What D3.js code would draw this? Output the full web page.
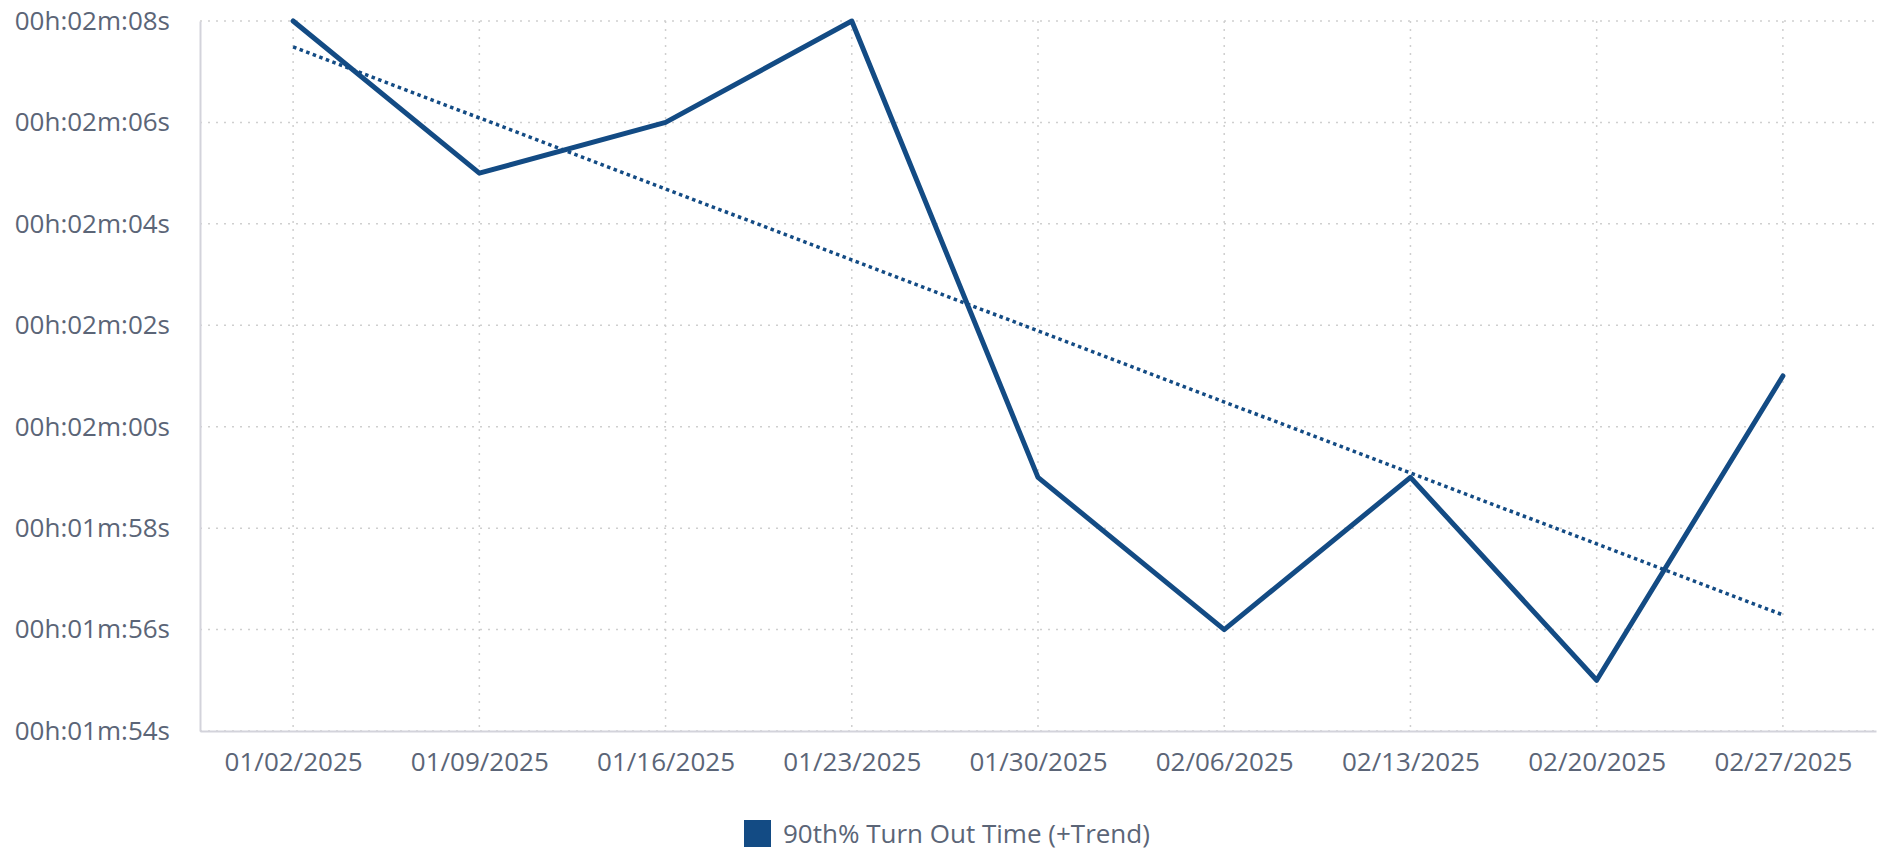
<!DOCTYPE html>
<html><head><meta charset="utf-8">
<script src="https://cdn.jsdelivr.net/npm/d3@7"></script>
<style>body{margin:0;background:#fff;} text{font-family:"Open Sans",sans-serif;fill:#5b6577;}</style>
</head><body>
<svg id="c" width="1886" height="853"></svg>
<script>
const categories = ["01/02/2025","01/09/2025","01/16/2025","01/23/2025","01/30/2025","02/06/2025","02/13/2025","02/20/2025","02/27/2025"];
const values = [128,125,126,128,119,116,119,115,121]; // seconds
const yTicks = [114,116,118,120,122,124,126,128];
const seriesName = "90th% Turn Out Time (+Trend)";
const color = "#134b84";

const svg = d3.select("#c");
const L=200, R=1876, T=21, B=731;
const x = d3.scalePoint().domain(categories).range([L,R]).padding(0.5);
const y = d3.scaleLinear().domain([114,128]).range([B,T]);
const fmt = s => "00h:" + String(Math.floor(s/60)).padStart(2,"0") + "m:" + String(s%60).padStart(2,"0") + "s";

// grid
svg.append("g").selectAll("line").data(yTicks).join("line")
  .attr("x1",L).attr("x2",R).attr("y1",d=>y(d)).attr("y2",d=>y(d))
  .attr("stroke","#cfcfcf").attr("stroke-width",1.5).attr("stroke-dasharray","2,6");
svg.append("g").selectAll("line").data(categories).join("line")
  .attr("x1",d=>x(d)).attr("x2",d=>x(d)).attr("y1",T).attr("y2",B)
  .attr("stroke","#cfcfcf").attr("stroke-width",1.5).attr("stroke-dasharray","2,6");

// axes
const ya = svg.append("g").attr("transform",`translate(${L},0)`)
  .call(d3.axisLeft(y).tickValues(yTicks).tickFormat(fmt).tickSize(0).tickPadding(30));
ya.select(".domain").attr("stroke","#d3d3db").attr("stroke-width",2);
ya.selectAll("text").attr("font-size",26).attr("font-family","Open Sans");
const xa = svg.append("g").attr("transform",`translate(0,${B})`)
  .call(d3.axisBottom(x).tickSize(0).tickPadding(22));
xa.select(".domain").attr("stroke","#d3d3db").attr("stroke-width",2);
xa.selectAll("text").attr("font-size",26).attr("font-family","Open Sans");

// trend (least squares)
const n = values.length, xs = d3.range(n);
const mx = d3.mean(xs), my = d3.mean(values);
const slope = d3.sum(xs,i=>(i-mx)*(values[i]-my))/d3.sum(xs,i=>(i-mx)*(i-mx));
const icpt = my - slope*mx;
svg.append("line")
  .attr("x1",x(categories[0])).attr("y1",y(icpt))
  .attr("x2",x(categories[n-1])).attr("y2",y(icpt+slope*(n-1)))
  .attr("stroke",color).attr("stroke-width",3.5).attr("stroke-dasharray","3.5,3.5");

// line
const line = d3.line().x((d,i)=>x(categories[i])).y(d=>y(d));
svg.append("path").datum(values).attr("d",line).attr("fill","none")
  .attr("stroke",color).attr("stroke-width",5).attr("stroke-linejoin","round").attr("stroke-linecap","round");

// legend
const lg = svg.append("g");
lg.append("rect").attr("x",744).attr("y",820).attr("width",27).attr("height",27).attr("fill",color);
lg.append("text").attr("x",783).attr("y",843).attr("font-size",26).text(seriesName);
</script>
</body></html>
